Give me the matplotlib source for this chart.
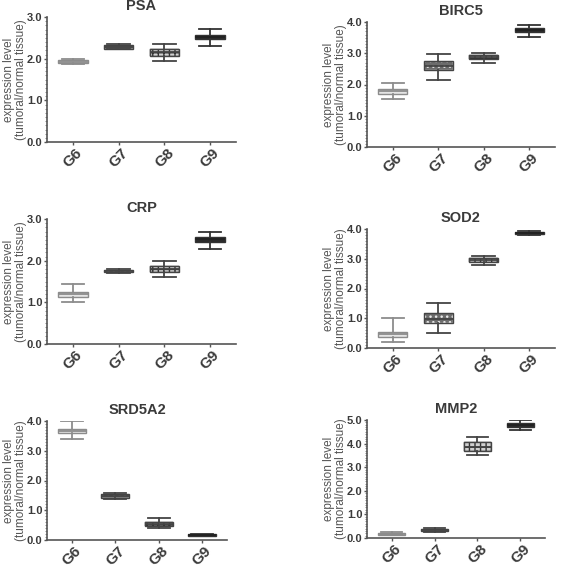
import matplotlib
matplotlib.use("Agg")
import matplotlib.pyplot as plt
from matplotlib.patches import PathPatch
from matplotlib.ticker import MultipleLocator, FormatStrFormatter

plt.rcParams["font.family"] = ["Liberation Sans", "DejaVu Sans"]

groups = ["G6", "G7", "G8", "G9"]

# per gene: [whisker low, q1, median, q3, whisker high] for G6..G9
psa = [[1.88, 1.90, 1.93, 1.97, 2.00],
       [2.23, 2.24, 2.28, 2.33, 2.35],
       [1.95, 2.07, 2.16, 2.24, 2.36],
       [2.30, 2.47, 2.52, 2.58, 2.71]]
birc5 = [[1.55, 1.71, 1.79, 1.87, 2.04],
         [2.15, 2.47, 2.59, 2.75, 2.99],
         [2.69, 2.81, 2.87, 2.93, 3.02],
         [3.51, 3.67, 3.74, 3.81, 3.91]]
crp = [[1.01, 1.13, 1.20, 1.26, 1.44],
       [1.70, 1.72, 1.75, 1.77, 1.80],
       [1.60, 1.72, 1.80, 1.88, 2.00],
       [2.27, 2.46, 2.52, 2.58, 2.70]]
sod2 = [[0.20, 0.38, 0.48, 0.55, 1.00],
        [0.51, 0.84, 0.99, 1.16, 1.51],
        [2.78, 2.90, 2.96, 3.02, 3.10],
        [3.80, 3.82, 3.85, 3.89, 3.92]]
srd5a2 = [[3.40, 3.58, 3.65, 3.74, 4.00],
          [1.39, 1.41, 1.49, 1.54, 1.59],
          [0.39, 0.47, 0.55, 0.61, 0.74],
          [0.13, 0.145, 0.17, 0.19, 0.20]]
mmp2 = [[0.11, 0.14, 0.18, 0.21, 0.25],
        [0.27, 0.30, 0.35, 0.39, 0.41],
        [3.52, 3.70, 3.87, 4.06, 4.27],
        [4.56, 4.69, 4.79, 4.89, 4.99]]

genes = ["PSA", "BIRC5", "CRP", "SOD2", "SRD5A2", "MMP2"]
gene_data = [psa, birc5, crp, sod2, srd5a2, mmp2]
ymax = [3.0, 4.0, 3.0, 4.0, 4.0, 5.0]

W, H = 573, 568
# axes boxes in pixels: left, right, top, bottom
boxes_px = [(47, 236, 17, 142), (367, 555, 22, 147),
            (47, 236, 219, 344), (367, 555, 229, 348),
            (47, 227, 421, 540), (367, 545, 420, 538)]

face = ["#e4e4e4", "#6c6c6c", "#d0d0d0", "#2b2b2b"]
hatch = [None, "...", "+++", None]
hatch_col = [None, "#e8e8e8", "#333333", None]
edge = ["#8c8c8c", "#444444", "#444444", "#333333"]
text_col = "#3a3a3a"

fig = plt.figure(figsize=(W / 100, H / 100), dpi=100)

for gi, gene in enumerate(genes):
    l, r, t, b = boxes_px[gi]
    ax = fig.add_axes([l / W, 1 - b / H, (r - l) / W, (b - t) / H])
    stats = []
    for k, g in enumerate(groups):
        lo, q1, med, q3, hi = gene_data[gi][k]
        stats.append({"whislo": lo, "q1": q1, "med": med, "q3": q3,
                      "whishi": hi, "label": g, "fliers": []})
    res = ax.bxp(stats, positions=[1, 2, 3, 4], widths=0.64,
                 patch_artist=True, showfliers=False, capwidths=0.5)
    for k in range(4):
        bx = res["boxes"][k]
        bx.set_facecolor(face[k])
        bx.set_edgecolor(edge[k])
        bx.set_linewidth(1.0)
        if hatch[k]:
            bx.set_edgecolor(hatch_col[k])
            bx.set_hatch(hatch[k])
            bx.set_linewidth(0.3)
            ax.add_patch(PathPatch(bx.get_path(), fill=False,
                                   edgecolor=edge[k], lw=1.0, zorder=bx.get_zorder() + 0.1))
        res["medians"][k].set_color(edge[k] if k != 3 else "#222222")
        res["medians"][k].set_linewidth(1.3)
        for w in res["whiskers"][2 * k:2 * k + 2] + res["caps"][2 * k:2 * k + 2]:
            w.set_color(edge[k])
            w.set_linewidth(1.3)
    ax.set_xlim(0.43, 4.57)
    ax.set_ylim(0, ymax[gi])
    ax.yaxis.set_major_locator(MultipleLocator(1.0))
    ax.yaxis.set_minor_locator(MultipleLocator(0.1))
    ax.yaxis.set_major_formatter(FormatStrFormatter("%.1f"))
    for s in ["top", "right"]:
        ax.spines[s].set_visible(False)
    for s in ["left", "bottom"]:
        ax.spines[s].set_color("#555555")
        ax.spines[s].set_linewidth(1.2)
    ax.tick_params(axis="y", which="major", length=2.5, width=1, colors="#555555",
                   labelsize=8, labelcolor=text_col, pad=0.8)
    ax.tick_params(axis="y", which="minor", length=1.5, width=0.6, colors="#777777")
    ax.tick_params(axis="x", length=2.5, width=1, colors="#555555",
                   labelsize=11, labelcolor=text_col, pad=0.5)
    for lab in ax.get_yticklabels():
        lab.set_fontweight("bold")
    ax.set_xticks([1, 2, 3, 4])
    ax.set_xticklabels(groups, rotation=45, fontweight="bold",
                       ha="center", va="top", rotation_mode="default")
    ax.set_title(gene, fontsize=10.5, fontweight="bold", color=text_col, pad=5)
    ax.set_ylabel("expression level\n(tumoral/normal tissue)", fontsize=8.5,
                  color="#555555", labelpad=-0.5, linespacing=1.05)

fig.savefig("out.png", dpi=100, facecolor="white")
